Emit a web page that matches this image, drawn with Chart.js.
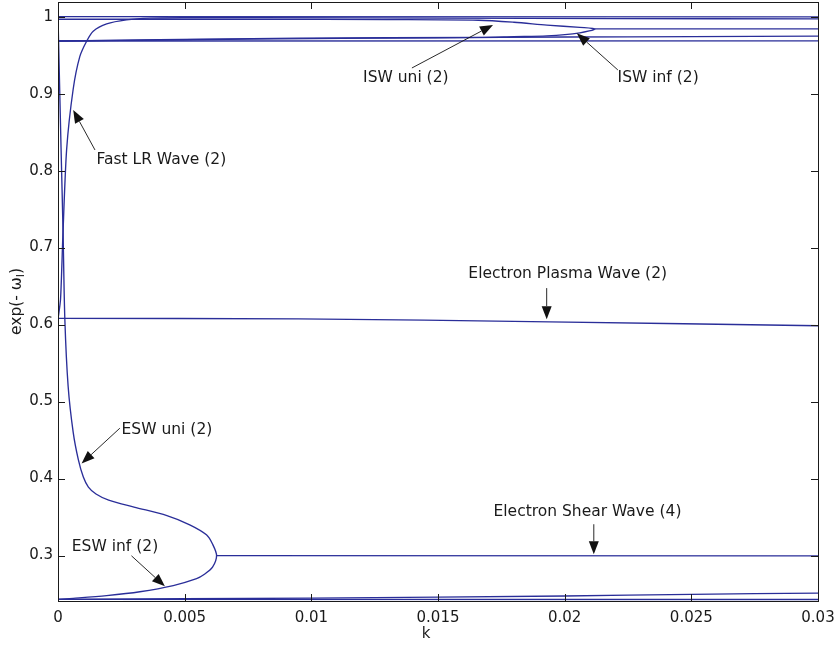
<!DOCTYPE html>
<html>
<head>
<meta charset="utf-8">
<script src="https://cdn.jsdelivr.net/npm/chart.js@4.4.1/dist/chart.umd.min.js"></script>
<style>
  html, body { margin: 0; padding: 0; background: #fff; }
  #wrap { width: 836px; height: 647px; position: relative; }
</style>
</head>
<body>
<div id="wrap"><canvas id="c" width="836" height="647"></canvas></div>
<script>
// Axis ticks
const kTicks = [0, 0.005, 0.01, 0.015, 0.02, 0.025, 0.03];
const eTicks = [0.3, 0.4, 0.5, 0.6, 0.7, 0.8, 0.9, 1.0];

// Branches of exp(-omega_I) versus k
const topK = [0, 0.03];
const topV = [1.0, 0.9997];

const fastLrK = [0, 0.0001, 0.00019, 0.00034, 0.0006, 0.00086, 0.00113, 0.00139, 0.00192, 0.0027, 0.00363, 0.005, 0.008, 0.015, 0.022, 0.03];
const fastLrV = [0.607, 0.633, 0.713, 0.827, 0.906, 0.948, 0.968, 0.981, 0.9905, 0.9957, 0.998, 0.9985, 0.9986, 0.998, 0.9974, 0.997];

const iswK = [0, 0.008, 0.013, 0.0166, 0.018, 0.0193, 0.0206, 0.0212, 0.0206, 0.0193, 0.018, 0.0166, 0.0095, 0.004, 0];
const iswV = [0.9966, 0.9965, 0.9961, 0.9953, 0.9927, 0.989, 0.986, 0.984, 0.979, 0.975, 0.974, 0.973, 0.972, 0.970, 0.9683];

const iswTailK = [0.0212, 0.03];
const iswTailV = [0.984, 0.984];

const ionFlatK = [0, 0.03];
const ionFlatV = [0.9683, 0.9685];

const ionRiseK = [0, 0.005, 0.01, 0.015, 0.02, 0.025, 0.03];
const ionRiseV = [0.9683, 0.970, 0.9715, 0.9725, 0.9735, 0.974, 0.9746];

const plasmaK = [0, 0.0095, 0.0194, 0.03];
const plasmaV = [0.608, 0.6075, 0.6036, 0.5985];

const eswK = [0, 0.00012, 0.0002, 0.00027, 0.0004, 0.0006, 0.0008, 0.001, 0.0012, 0.0015, 0.002, 0.003, 0.0043, 0.0052, 0.00586, 0.0061, 0.00626, 0.0061, 0.00575, 0.00547, 0.00455, 0.00323, 0.00192, 0.0006, 0];
const eswV = [1.0, 0.83, 0.72, 0.607, 0.52, 0.46, 0.425, 0.402, 0.389, 0.38, 0.372, 0.363, 0.352, 0.340, 0.327, 0.315, 0.3, 0.285, 0.275, 0.270, 0.261, 0.253, 0.248, 0.2445, 0.2432];

const shearK = [0.00626, 0.03];
const shearV = [0.3, 0.2996];

const lowFlatK = [0, 0.03];
const lowFlatV = [0.2432, 0.2430];

const lowRiseK = [0, 0.01, 0.02, 0.025, 0.03];
const lowRiseV = [0.2432, 0.2448, 0.2475, 0.2497, 0.2512];

// Labelled arrows: text centre, arrow tail and arrow tip, all in (k, value)
const noteText  = ['ISW uni (2)', 'ISW inf (2)', 'Fast LR Wave (2)', 'Electron Plasma Wave (2)', 'ESW uni (2)', 'ESW inf (2)', 'Electron Shear Wave (4)'];
const noteAtK   = [0.01373, 0.02369, 0.00408, 0.02012, 0.0043, 0.00225, 0.0209];
const noteAtV   = [0.9203, 0.9203, 0.8137, 0.6654, 0.4628, 0.3108, 0.3562];
const tailK     = [0.01397, 0.0221, 0.00146, 0.01929, 0.00244, 0.0029, 0.02115];
const tailV     = [0.9333, 0.9307, 0.8268, 0.6474, 0.4654, 0.2997, 0.3407];
const tipK      = [0.01717, 0.02048, 0.0006, 0.01929, 0.00093, 0.00422, 0.02115];
const tipV      = [0.9892, 0.9784, 0.8787, 0.6071, 0.4196, 0.26, 0.3017];

const LINE = '#2a2e99';
const pts = (ks, vs) => ks.map((k, i) => ({ x: k, y: vs[i] }));
const curve = (ks, vs, tension) => ({
  data: pts(ks, vs),
  showLine: true,
  borderColor: LINE,
  borderWidth: 1.35,
  pointRadius: 0,
  pointHitRadius: 0,
  tension: tension || 0,
  fill: false
});

const datasets = [
  curve(topK, topV),
  curve(fastLrK, fastLrV, 0.25),
  curve(iswK, iswV, 0.3),
  curve(iswTailK, iswTailV),
  curve(ionFlatK, ionFlatV),
  curve(ionRiseK, ionRiseV, 0.3),
  curve(plasmaK, plasmaV, 0.3),
  curve(eswK, eswV, 0.3),
  curve(shearK, shearV),
  curve(lowFlatK, lowFlatV),
  curve(lowRiseK, lowRiseV, 0.3)
];

const TEXT_FONT = '"DejaVu Sans", "Liberation Sans", sans-serif';

// Box, inward ticks, axis titles and labelled arrows
const framePlugin = {
  id: 'frameAndNotes',
  afterDatasetsDraw(chart) {
    const { ctx, chartArea: a, scales: { x, y } } = chart;
    ctx.save();
    ctx.strokeStyle = '#1a1a1a';
    ctx.lineWidth = 1;
    ctx.strokeRect(Math.round(a.left) + 0.5, Math.round(a.top) + 0.5,
                   Math.round(a.right - a.left), Math.round(a.bottom - a.top));
    const T = 7;
    ctx.beginPath();
    kTicks.forEach(k => {
      const px = Math.round(x.getPixelForValue(k)) + 0.5;
      ctx.moveTo(px, a.bottom); ctx.lineTo(px, a.bottom - T);
      ctx.moveTo(px, a.top); ctx.lineTo(px, a.top + T);
    });
    eTicks.forEach(v => {
      const py = Math.round(y.getPixelForValue(v)) + 0.5;
      ctx.moveTo(a.left, py); ctx.lineTo(a.left + T, py);
      ctx.moveTo(a.right, py); ctx.lineTo(a.right - T, py);
    });
    ctx.stroke();

    // axis titles
    ctx.fillStyle = '#1a1a1a';
    ctx.font = '15px ' + TEXT_FONT;
    ctx.textAlign = 'center';
    ctx.textBaseline = 'middle';
    ctx.fillText('k', (a.left + a.right) / 2 - 12, 634);

    ctx.save();
    ctx.translate(16, (a.top + a.bottom) / 2);
    ctx.rotate(-Math.PI / 2);
    const main = 'exp(- \u03C9', sub = 'I', close = ')';
    ctx.font = '15.5px ' + TEXT_FONT;
    const w1 = ctx.measureText(main).width;
    const w3 = ctx.measureText(close).width;
    ctx.font = '11px ' + TEXT_FONT;
    const w2 = ctx.measureText(sub).width;
    const sx = -(w1 + w2 + w3) / 2;
    ctx.textAlign = 'left';
    ctx.textBaseline = 'alphabetic';
    ctx.font = '15.5px ' + TEXT_FONT;
    ctx.fillText(main, sx, 5);
    ctx.font = '11px ' + TEXT_FONT;
    ctx.fillText(sub, sx + w1, 8);
    ctx.font = '15.5px ' + TEXT_FONT;
    ctx.fillText(close, sx + w1 + w2, 5);
    ctx.restore();

    // labelled arrows
    noteText.forEach((txt, i) => {
      const x0 = x.getPixelForValue(tailK[i]), y0 = y.getPixelForValue(tailV[i]);
      const x1 = x.getPixelForValue(tipK[i]),  y1 = y.getPixelForValue(tipV[i]);
      const ang = Math.atan2(y1 - y0, x1 - x0);
      const HL = 13, HW = 5;
      const bx = x1 - HL * Math.cos(ang), by = y1 - HL * Math.sin(ang);
      ctx.strokeStyle = '#111';
      ctx.lineWidth = 0.9;
      ctx.beginPath();
      ctx.moveTo(x0, y0); ctx.lineTo(bx, by);
      ctx.stroke();
      ctx.fillStyle = '#111';
      ctx.beginPath();
      ctx.moveTo(x1, y1);
      ctx.lineTo(bx + HW * Math.sin(ang), by - HW * Math.cos(ang));
      ctx.lineTo(bx - HW * Math.sin(ang), by + HW * Math.cos(ang));
      ctx.closePath();
      ctx.fill();

      ctx.fillStyle = '#1a1a1a';
      ctx.font = '15.5px ' + TEXT_FONT;
      ctx.textAlign = 'center';
      ctx.textBaseline = 'middle';
      ctx.fillText(txt, x.getPixelForValue(noteAtK[i]), y.getPixelForValue(noteAtV[i]));
    });
    ctx.restore();
  }
};

Chart.defaults.font.family = TEXT_FONT;
Chart.defaults.font.size = 15;
Chart.defaults.color = '#1a1a1a';

new Chart(document.getElementById('c'), {
  type: 'scatter',
  data: { datasets },
  options: {
    responsive: false,
    animation: false,
    layout: { autoPadding: false, padding: { top: 2, right: 18, left: 0, bottom: 0 } },
    plugins: { legend: { display: false }, tooltip: { enabled: false } },
    scales: {
      x: {
        type: 'linear',
        min: 0, max: 0.03,
        grid: { display: false, drawTicks: false },
        border: { display: false },
        afterFit: s => { s.height = 46; s.paddingLeft = 0; s.paddingRight = 0; },
        afterBuildTicks: s => { s.ticks = kTicks.map(v => ({ value: v })); },
        ticks: {
          padding: 8,
          maxRotation: 0,
          callback: v => String(Number(v.toFixed(3)))
        }
      },
      y: {
        type: 'linear',
        min: 0.241, max: 1.019,
        grid: { display: false, drawTicks: false },
        border: { display: false },
        afterFit: s => { s.width = 58; s.paddingTop = 0; s.paddingBottom = 0; },
        afterBuildTicks: s => { s.ticks = eTicks.map(v => ({ value: v })); },
        ticks: {
          padding: 5,
          callback: v => String(Number(v.toFixed(1)))
        }
      }
    }
  },
  plugins: [framePlugin]
});
</script>
</body>
</html>
